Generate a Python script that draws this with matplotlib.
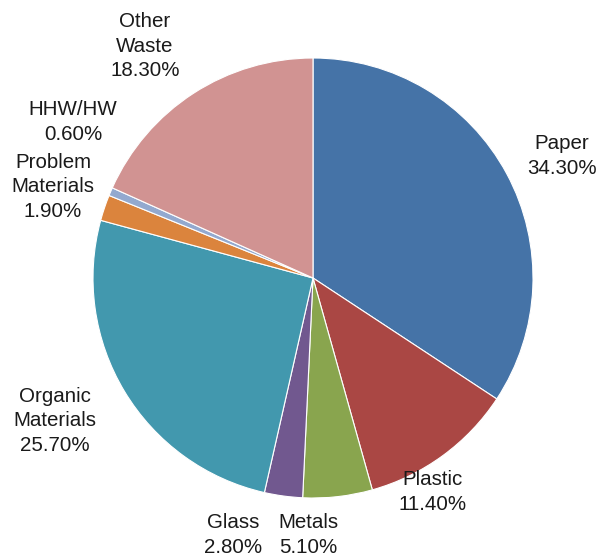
import matplotlib.pyplot as plt

# Waste composition shares (%)
categories = ['Paper', 'Plastic', 'Metals', 'Glass', 'Organic\nMaterials',
              'Problem\nMaterials', 'HHW/HW', 'Other\nWaste']
shares = [34.3, 11.4, 5.1, 2.8, 25.7, 1.9, 0.6, 18.3]
colors = ['#4573A7', '#AA4744', '#89A54E', '#71588F', '#4298AE',
          '#DB843D', '#93A9CF', '#D19392']

# label centres in pixel coordinates (x, y from top)
label_pos = [(562, 156), (433, 492), (308, 535), (233, 535), (55, 421),
             (53, 187), (73, 122), (145, 46)]

W, H = 596, 557
fig = plt.figure(figsize=(W / 100, H / 100), dpi=100)
ax = fig.add_axes([0, 0, 1, 1])

ax.pie(shares, colors=colors, startangle=90, counterclock=False,
       center=(313, H - 278), radius=220,
       wedgeprops=dict(edgecolor='white', linewidth=0.8))

# pie() rescales the axes, so fix the pixel frame afterwards
ax.set_xlim(0, W)
ax.set_ylim(0, H)
ax.set_aspect('equal')
ax.axis('off')

for name, v, (x, y) in zip(categories, shares, label_pos):
    ax.text(x, H - y, f'{name}\n{v:.2f}%', ha='center', va='center',
            fontsize=14.8, family='Liberation Sans', color='#1a1a1a',
            linespacing=1.36)

fig.savefig('out.png', dpi=100)
